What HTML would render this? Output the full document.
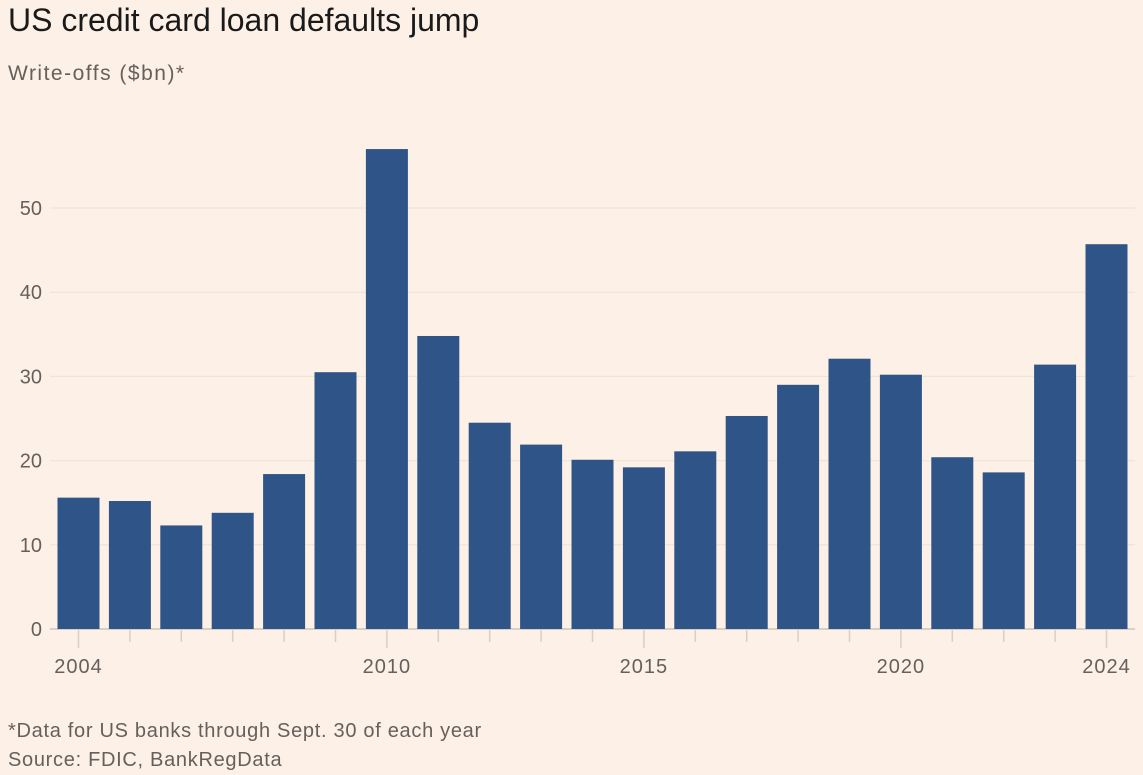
<!DOCTYPE html>
<html><head><meta charset="utf-8"><style>
body{margin:0;background:#fdf0e6;font-family:"Liberation Sans",sans-serif;}
svg{display:block}
</style></head><body>
<svg width="1143" height="775">
<rect width="1143" height="775" fill="#fdf0e6"/>
<text x="8" y="31" font-size="32" fill="#1a1a1a">US credit card loan defaults jump</text>
<text x="8" y="80" font-size="21" letter-spacing="1.5" fill="#66605c">Write-offs ($bn)*</text>
<g id="grid"></g><g id="bars"></g><g id="xaxis"></g>
<text x="8" y="737" font-size="20" letter-spacing="0.7" fill="#66605c">*Data for US banks through Sept. 30 of each year</text>
<text x="8" y="766" font-size="20" letter-spacing="0.7" fill="#66605c">Source: FDIC, BankRegData</text>
</svg>
<script>
const years=[2004,2005,2006,2007,2008,2009,2010,2011,2012,2013,2014,2015,2016,2017,2018,2019,2020,2021,2022,2023,2024];
const values=[15.6,15.2,12.3,13.8,18.4,30.5,57,34.8,24.5,21.9,20.1,19.2,21.1,25.3,29,32.1,30.2,20.4,18.6,31.4,45.7];
const yTicks=[0,10,20,30,40,50];
const xLabels=[2004,2010,2015,2020,2024];
const NS="http://www.w3.org/2000/svg";
const y0=629,pxPer=8.42,x0=78.5,pitch=51.4,bw=42;
const ys=v=>y0-v*pxPer, xs=yr=>x0+(yr-years[0])*pitch;
function mk(t,a,p){const e=document.createElementNS(NS,t);for(const k in a)e.setAttribute(k,a[k]);p.appendChild(e);return e;}
const g=document.getElementById('grid'),b=document.getElementById('bars'),xa=document.getElementById('xaxis');
yTicks.forEach(v=>{
 const l=mk('line',{x1:50,x2:1135,y1:ys(v),y2:ys(v),stroke:v===0?'#d9cfc6':'#ece2d8','stroke-width':v===0?2:1},g);
 
 
 const t=mk('text',{x:42,y:ys(v)+7,'text-anchor':'end','font-size':20,fill:'#66605c'},g);
 t.textContent=v;
 
 
});
years.forEach((yr,i)=>{
 const r=mk('rect',{x:xs(yr)-bw/2,y:ys(values[i]),width:bw,height:values[i]*pxPer,fill:'#2f5488'},b);
 
 
 const long=xLabels.includes(yr);
 const tk=mk('line',{x1:xs(yr),x2:xs(yr),y1:y0+1,y2:long?648:642,stroke:'#d9cfc6','stroke-width':1.5},xa);
 
 
});
xLabels.forEach(yr=>{
 const t=mk('text',{x:xs(yr),y:673,'text-anchor':'middle','font-size':20,'letter-spacing':1,fill:'#66605c'},xa);
 t.textContent=yr;
 
 
});
</script>
</body></html>
